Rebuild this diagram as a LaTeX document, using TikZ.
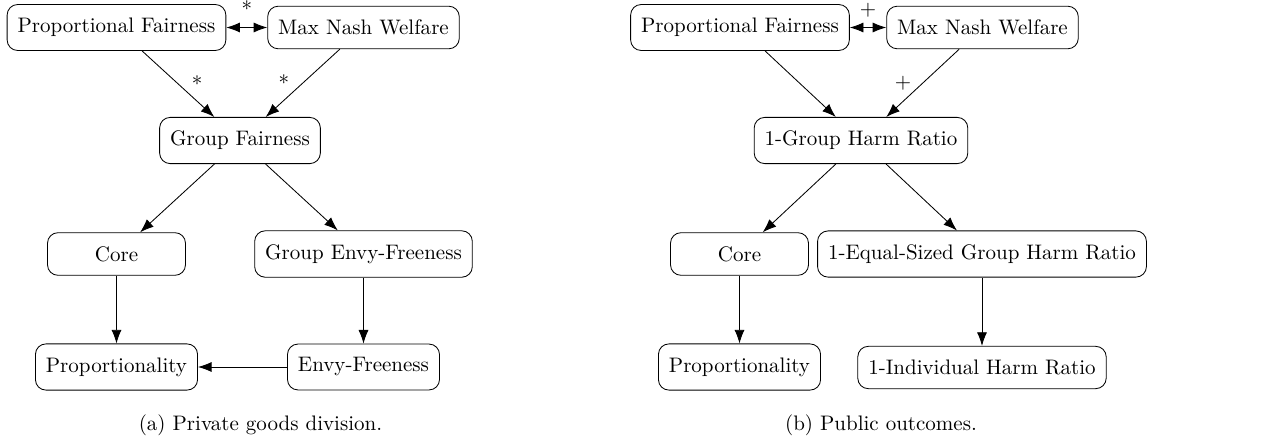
\documentclass[tikz,border=0pt]{standalone}
\usetikzlibrary{arrows.meta}
\begin{document}
\begin{tikzpicture}[x=0.476pt,y=-0.476pt,
  box/.style={draw, rounded corners=5pt, inner xsep=5pt, inner ysep=6.5pt, minimum width=65.7pt},
  arr/.style={-{Latex[length=6.5pt,width=4.8pt]}},
  darr/.style={{Latex[length=6.5pt,width=4.8pt]}-{Latex[length=6.5pt,width=4.8pt]}},
  lab/.style={inner sep=3.33pt}]
\useasboundingbox (0,0) rectangle (1281,438);
% (a) private goods
\node[box] (pfa) at (116.5,27.5) {Proportional Fairness};
\node[box] (mnwa) at (363.5,27.5) {Max Nash Welfare};
\node[box] (gfa) at (240,140.5) {Group Fairness};
\node[box] (corea) at (116.5,254) {Core};
\node[box] (gefa) at (363.5,254) {Group Envy-Freeness};
\node[box] (propa) at (116.5,367) {Proportionality};
\node[box] (efa) at (363.5,367) {Envy-Freeness};
\draw[darr] (pfa) -- node[lab, above=1.5pt] {*} (mnwa);
\draw[arr] (pfa) -- node[lab, right=3pt] {*} (gfa);
\draw[arr] (mnwa) -- node[lab, left=3pt] {*} (gfa);
\draw[arr] (gfa) -- (corea);
\draw[arr] (gfa) -- (gefa);
\draw[arr] (corea) -- (propa);
\draw[arr] (gefa) -- (efa);
\draw[arr] (efa) -- (propa);
\node[anchor=base] (capa) at (260.5,430) {(a) Private goods division.};
% (b) public outcomes
\node[box] (pfb) at (740,27.5) {Proportional Fairness};
\node[box] (mnwb) at (982.5,27.5) {Max Nash Welfare};
\node[box] (ghrb) at (861,140.5) {1-Group Harm Ratio};
\node[box] (coreb) at (739.5,254) {Core};
\node[box] (esb) at (982,254) {1-Equal-Sized Group Harm Ratio};
\node[box] (propb) at (739.5,367) {Proportionality};
\node[box] (ihrb) at (982,367.5) {1-Individual Harm Ratio};
\draw[darr] (pfb) -- node[lab, above=1.5pt] {$+$} (mnwb);
\draw[arr] (pfb) -- (ghrb);
\draw[arr] (mnwb) -- node[lab, left=2pt] {$+$} (ghrb);
\draw[arr] (ghrb) -- (coreb);
\draw[arr] (ghrb) -- (esb);
\draw[arr] (coreb) -- (propb);
\draw[arr] (esb) -- (ihrb);
\node[anchor=base] (capb) at (881,430) {(b) Public outcomes.};
\end{tikzpicture}
\end{document}
